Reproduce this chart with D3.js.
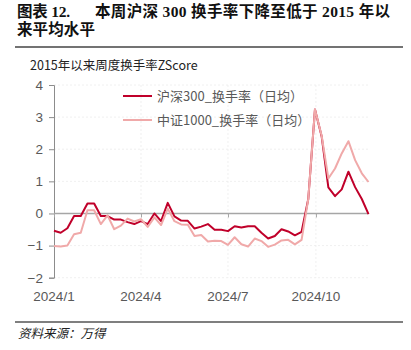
<!DOCTYPE html>
<html><head><meta charset="utf-8">
<script src="https://cdn.jsdelivr.net/npm/d3@7"></script>
<style>
html,body{margin:0;padding:0;background:#fff;}
svg{display:block;}
</style></head>
<body>
<svg id="c" width="411" height="350"></svg>
<script>
const dates = ["2024-01-01","2024-01-08","2024-01-15","2024-01-22","2024-01-29","2024-02-05","2024-02-12","2024-02-19","2024-02-26","2024-03-04","2024-03-11","2024-03-18","2024-03-25","2024-04-01","2024-04-08","2024-04-15","2024-04-22","2024-04-29","2024-05-06","2024-05-13","2024-05-20","2024-05-27","2024-06-03","2024-06-10","2024-06-17","2024-06-24","2024-07-01","2024-07-08","2024-07-15","2024-07-22","2024-07-29","2024-08-05","2024-08-12","2024-08-19","2024-08-26","2024-09-02","2024-09-09","2024-09-16","2024-09-23","2024-09-30","2024-10-07","2024-10-14","2024-10-21","2024-10-28","2024-11-04","2024-11-11","2024-11-18","2024-11-25"];
const hs300 = [-0.54,-0.6,-0.46,-0.08,-0.08,0.31,0.31,-0.08,-0.08,-0.19,-0.19,-0.27,-0.33,-0.24,-0.33,0.0,-0.24,0.33,-0.09,-0.22,-0.23,-0.47,-0.41,-0.33,-0.51,-0.51,-0.55,-0.4,-0.44,-0.4,-0.4,-0.6,-0.78,-0.7,-0.49,-0.56,-0.68,-0.57,0.45,3.24,2.4,0.81,0.54,0.75,1.3,0.82,0.45,-0.02];
const csi1000 = [-1.01,-1.03,-1.0,-0.65,-0.6,0.1,0.1,-0.33,-0.06,-0.49,-0.38,-0.16,-0.25,-0.18,-0.42,-0.12,-0.36,0.15,-0.24,-0.34,-0.35,-0.7,-0.67,-0.87,-0.85,-0.86,-0.98,-0.74,-0.96,-1.03,-0.78,-0.86,-1.04,-0.97,-0.84,-0.82,-0.96,-0.82,0.45,3.24,2.42,1.09,1.4,1.87,2.25,1.66,1.25,0.98];
const seriesNames = ["沪深300_换手率（日均）","中证1000_换手率（日均）"];
const seriesColors = ["#c0002a","#f0a9a9"];
const xTickDates = ["2024-01-01","2024-04-01","2024-07-01","2024-10-01"];
const xTickLabels = ["2024/1","2024/4","2024/7","2024/10"];
const yTicks = [-2,-1,0,1,2,3,4];

const parse = d3.timeParse("%Y-%m-%d");
const svg = d3.select("#c");
const x = d3.scaleTime().domain([parse(dates[0]), parse(dates[dates.length-1])]).range([54, 368.5]);
const y = d3.scaleLinear().domain([-2,4]).range([277.7, 85]);
const font = "'Noto Sans CJK SC', sans-serif";
const titleFont = "'Liberation Serif','Noto Sans CJK SC',serif";

// Title
svg.append("text").attr("x",17).attr("y",17)
  .attr("font-family",titleFont).attr("font-weight","bold")
  .attr("font-size",15.5).attr("fill","#111").attr("textLength",53).text("图表 12.");
svg.append("text").attr("x",95).attr("y",17)
  .attr("font-family",titleFont).attr("font-weight","bold")
  .attr("font-size",15.5).attr("fill","#111").attr("textLength",295)
  .text("本周沪深 300 换手率下降至低于 2015 年以");
svg.append("text").attr("x",17).attr("y",35)
  .attr("font-family",titleFont).attr("font-weight","bold")
  .attr("font-size",15.5).attr("fill","#111").attr("textLength",78).text("来平均水平");
svg.append("line").attr("x1",15).attr("x2",403).attr("y1",47).attr("y2",47).attr("stroke","#444").attr("stroke-width",1.3);

// subtitle
svg.append("text").attr("x",30).attr("y",70).attr("font-family",font).attr("font-size",12.5).attr("fill","#222").text("2015年以来周度换手率ZScore");

// gridlines
svg.append("g").selectAll("line").data(yTicks.filter(d=>d!==0)).join("line")
  .attr("x1",54).attr("x2",368).attr("y1",d=>y(d)).attr("y2",d=>y(d))
  .attr("stroke","#ececec").attr("stroke-width",0.8).attr("stroke-dasharray","2,2");
svg.append("g").selectAll("line").data(xTickDates.slice(1)).join("line")
  .attr("x1",d=>x(parse(d))).attr("x2",d=>x(parse(d))).attr("y1",y(4)).attr("y2",y(-2))
  .attr("stroke","#ececec").attr("stroke-width",0.8).attr("stroke-dasharray","2,2");

// y axis
const yAxis = svg.append("g").attr("transform","translate(54,0)")
  .call(d3.axisLeft(y).tickValues(yTicks).tickSize(5).tickPadding(6).tickFormat(d3.format("d")));
yAxis.select(".domain").attr("stroke","#8c8c8c");
yAxis.selectAll(".tick line").attr("stroke","#8c8c8c");
yAxis.selectAll("text").attr("font-family","'Liberation Sans',Arial,sans-serif").attr("font-size",13.5).attr("fill","#595959");

// x axis at zero
const xAxis = svg.append("g").attr("transform",`translate(0,${y(0)})`)
  .call(d3.axisBottom(x).tickValues(xTickDates.map(parse)).tickSize(4).tickFormat(()=>""));
xAxis.select(".domain").attr("stroke","#a6a6a6").attr("stroke-width",1.6).attr("d",`M54,0H368.5`);
xAxis.selectAll(".tick line").attr("stroke","#a6a6a6");
svg.append("g").selectAll("text").data(xTickDates).join("text")
  .attr("x",d=>x(parse(d))).attr("y",301).attr("text-anchor","middle")
  .attr("font-family","'Liberation Sans',Arial,sans-serif").attr("font-size",13.5).attr("fill","#595959")
  .text((d,i)=>xTickLabels[i]);

// lines
const allSeries = [hs300, csi1000];
const line = d3.line().x((d,i)=>x(parse(dates[i]))).y(d=>y(d));
[0,1].forEach(k=>{
  svg.append("path").datum(allSeries[k]).attr("d",line).attr("fill","none")
    .attr("stroke",seriesColors[k]).attr("stroke-width",2).attr("stroke-linejoin","round");
});

// legend
const lg = svg.append("g");
seriesNames.forEach((n,i)=>{
  const yy = 96 + i*24;
  lg.append("line").attr("x1",123).attr("x2",152).attr("y1",yy).attr("y2",yy).attr("stroke",seriesColors[i]).attr("stroke-width",2);
  lg.append("text").attr("x",157).attr("y",yy+4.5).attr("font-family",font).attr("font-size",13).attr("fill","#595959").text(n);
});

// source
svg.append("line").attr("x1",15).attr("x2",403).attr("y1",322).attr("y2",322).attr("stroke","#555").attr("stroke-width",1.3);
svg.append("text").attr("x",18).attr("y",338).attr("font-family",font).attr("font-style","italic").attr("font-size",12.5).attr("fill","#222").text("资料来源：万得");
</script>
</body></html>
